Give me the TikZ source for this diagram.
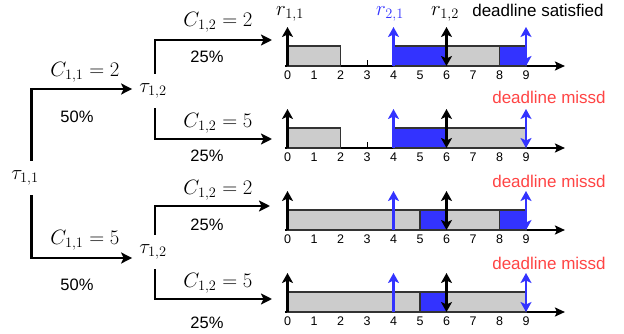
\documentclass[tikz,border=0pt]{standalone}
\usepackage{fontspec}
\setsansfont{Liberation Sans}
\usetikzlibrary{arrows.meta}
\definecolor{jblue}{RGB}{51,51,255}
\definecolor{jgray}{RGB}{204,204,204}
\definecolor{jred}{RGB}{255,68,68}
\tikzset{
  branch/.style={line width=2.5pt, -{Stealth[length=11pt,width=11pt,inset=2.5pt]}},
  tau/.style={inner xsep=7pt, inner ysep=0pt, minimum height=34pt, font=\fontsize{20.74}{24}\selectfont},
  mlabel/.style={inner sep=0pt, font=\fontsize{20.74}{24}\selectfont},
  pct/.style={inner sep=0pt, font=\sffamily\fontsize{16.5}{18}\selectfont},
  tnum/.style={inner sep=0pt, font=\sffamily\fontsize{12.5}{14}\selectfont},
  axisline/.style={line width=2.2pt, -{Stealth[length=10pt,width=9pt,inset=2pt]}},
  gbox/.style={fill=jgray, draw=black!80, line width=1.2pt},
  bbox/.style={fill=jblue, draw=black!80, line width=1.2pt},
  upk/.style={line width=2.6pt, -{Stealth[length=10pt,width=11pt,inset=2.5pt]}},
  dblk/.style={line width=2.6pt, {Stealth[length=10pt,width=11pt,inset=2.5pt]}-{Stealth[length=10pt,width=11pt,inset=2.5pt]}},
  miss/.style={inner sep=0pt, text=jred, font=\sffamily\fontsize{17}{19}\selectfont},
}
\begin{document}
\begin{tikzpicture}[x=1pt,y=-1pt]
\useasboundingbox (0,0) rectangle (624,334);
% ---------- tree ----------
\node[tau] (t11) at (25,178) {$\tau_{1,1}$};
\node[tau] (t12a) at (153,91) {$\tau_{1,2}$};
\node[tau] (t12b) at (153,252) {$\tau_{1,2}$};
\coordinate (e1) at (272,40);
\coordinate (e2) at (272,139);
\coordinate (e3) at (270,206);
\coordinate (e4) at (272,299);
\draw[branch] ([xshift=6.7pt]t11.north) |- ([yshift=2pt]t12a.west);
\draw[branch] ([xshift=6.7pt]t11.south) |- ([yshift=-6pt]t12b.west);
\draw[branch] ([xshift=2pt]t12a.north) |- (e1);
\draw[branch] ([xshift=2pt]t12a.south) |- (e2);
\draw[branch] ([xshift=2pt]t12b.north) |- (e3);
\draw[branch] ([xshift=2pt]t12b.south) |- (e4);
\node[mlabel] (c1) at (85,72) {$C_{1,1}=2$};
\node[pct] (p1) at (77,117) {50\%};
\node[mlabel] (c2) at (85,240) {$C_{1,1}=5$};
\node[pct] (p2) at (77,285) {50\%};
\node[mlabel] (c3) at (218,22) {$C_{1,2}=2$};
\node[pct] (p3) at (207,57) {25\%};
\node[mlabel] (c4) at (218,123) {$C_{1,2}=5$};
\node[pct] (p4) at (207,156) {25\%};
\node[mlabel] (c5) at (218,190) {$C_{1,2}=2$};
\node[pct] (p5) at (207,225) {25\%};
\node[mlabel] (c6) at (218,283) {$C_{1,2}=5$};
\node[pct] (p6) at (207,323) {25\%};
% ---------- timelines ----------
\foreach \Y/\ga/\bs/\gb/\bb/\row in {66/2/4/8/1/1, 148/2/4/9/0/2, 230/5/5/8/1/3, 312/5/5/9/0/4}{
  \begin{scope}[shift={(287.5pt,-\Y pt)}, x=26.5pt, y=-1pt]
    \draw[axisline] (-0.1,0) -- (10.47,0);
    \foreach \k in {1,...,8} \draw[line width=1pt] (\k,0) -- (\k,-6);
    \draw[gbox] (0,0) rectangle (\ga,-20);
    \draw[bbox] (\bs,0) rectangle (6,-20);
    \draw[gbox] (6,0) rectangle (\gb,-20);
    \ifnum\bb=1 \draw[bbox] (8,0) rectangle (9,-20); \fi
    \foreach \k in {0,...,9} \node[tnum] at (\k,9) {\k};
    \draw[upk] (0,0) -- (0,-39);
    \draw[upk, jblue] (4,0) -- (4,-39);
    \draw[dblk] (6,-39) -- (6,0);
    \draw[dblk, jblue] (9,-39) -- (9,0);
  \end{scope}
}
\node[mlabel] (r11) at (290,14) {$r_{1,1}$};
\node[mlabel, text=jblue] (r21) at (390,14) {$r_{2,1}$};
\node[mlabel] (r12) at (445,14) {$r_{1,2}$};
\node[inner sep=0pt, font=\sffamily\fontsize{17}{19}\selectfont] (ds) at (538,10) {deadline satisfied};
\node[miss] (m1) at (549,97) {deadline missd};
\node[miss] (m2) at (549,181) {deadline missd};
\node[miss] (m3) at (549,263) {deadline missd};
\end{tikzpicture}
\end{document}
